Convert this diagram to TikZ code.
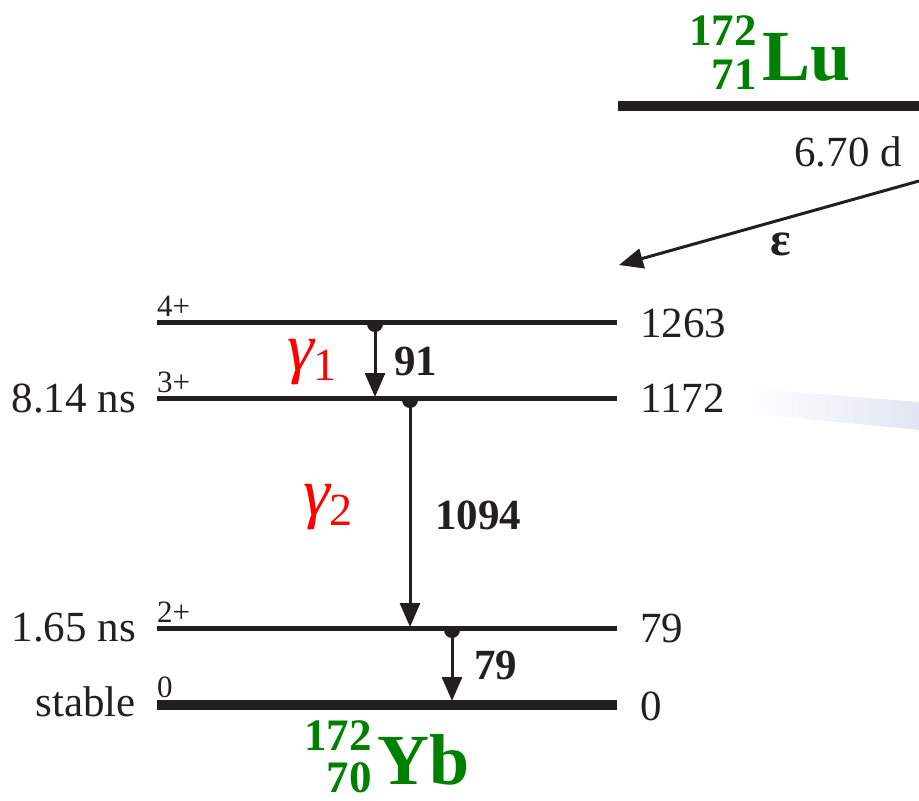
\documentclass[tikz,border=0pt]{standalone}
\usepackage{fontspec}
\setmainfont{Liberation Serif}
\usetikzlibrary{arrows.meta}
\definecolor{lvl}{RGB}{35,31,32}
\definecolor{nucgreen}{RGB}{0,128,0}
\definecolor{gred}{RGB}{255,0,0}
\definecolor{bandblue}{RGB}{224,230,242}
\begin{document}
\begin{tikzpicture}[x=1pt,y=-1pt,
 level/.style={line width=5pt,draw=lvl},
 glevel/.style={line width=10pt,draw=lvl},
 trans/.style={line width=3pt,draw=lvl,-{Triangle[length=24pt,width=20pt]}},
 dotstart/.style={fill=lvl},
 num/.style={font=\fontsize{43}{43}\selectfont,text=lvl,inner sep=0pt},
 spin/.style={font=\fontsize{31}{31}\selectfont,text=lvl,inner sep=0pt},
 energy/.style={font=\bfseries\fontsize{43}{43}\selectfont,text=lvl,inner sep=0pt},
 gam/.style={font=\itshape\fontsize{68}{68}\selectfont,text=gred,inner sep=0pt},
 nuc/.style={font=\bfseries\fontsize{72}{72}\selectfont,text=nucgreen,inner sep=0pt},
 nucs/.style={font=\bfseries\fontsize{45}{45}\selectfont,text=nucgreen,inner sep=0pt},
]
\useasboundingbox (0,0) rectangle (919,801);
% faint band
\shade[left color=white,right color=bandblue,draw=none]
  (745,388) -- (919,402) -- (919,430) -- (745,413) -- cycle;

% levels
\coordinate (l4a) at (157,322); \coordinate (l4b) at (617,322);
\coordinate (l3a) at (157,398); \coordinate (l3b) at (617,398);
\coordinate (l2a) at (157,628); \coordinate (l2b) at (617,628);
\coordinate (l0a) at (157,705); \coordinate (l0b) at (617,705);
\coordinate (lua) at (618,106); \coordinate (lub) at (919,106);
\draw[level] (l4a) -- (l4b);
\draw[level] (l3a) -- (l3b);
\draw[level] (l2a) -- (l2b);
\draw[glevel] (l0a) -- (l0b);
\draw[glevel] (lua) -- (lub);

% spins
\node[spin,anchor=base west] (s4) at (157,316) {4+};
\node[spin,anchor=base west] (s3) at (157,392) {3+};
\node[spin,anchor=base west] (s2) at (157,622) {2+};
\node[spin,anchor=base west] (s0) at (157,697) {0};

% half-lives
\node[num,anchor=east] (h3) at (136,398) {8.14 ns};
\node[num,anchor=east] (h2) at (136,628) {1.65 ns};
\node[num,anchor=east] (h0) at (136,702) {stable};

% energies
\node[num,anchor=west] (e4) at (640,323) {1263};
\node[num,anchor=west] (e3) at (640,398) {1172};
\node[num,anchor=west] (e2) at (640,628) {79};
\node[num,anchor=west] (e0) at (640,706) {0};

% transitions
\coordinate (t1s) at (375,324); \coordinate (t1e) at (375,397);
\coordinate (t2s) at (410,400); \coordinate (t2e) at (410,627);
\coordinate (t3s) at (452,630); \coordinate (t3e) at (452,701);
\fill[dotstart] (383,324) arc[start angle=0,end angle=180,radius=8] -- cycle;
\fill[dotstart] (418,400) arc[start angle=0,end angle=180,radius=8] -- cycle;
\fill[dotstart] (460,630) arc[start angle=0,end angle=180,radius=8] -- cycle;
\draw[trans] (t1s) -- (t1e);
\draw[trans] (t2s) -- (t2e);
\draw[trans] (t3s) -- (t3e);
\node[energy,anchor=west] (g1e) at (394,361) {91};
\node[energy,anchor=west] (g2e) at (435,515) {1094};
\node[energy,anchor=west] (g3e) at (474,665) {79};
\node[gam,anchor=base west] (g1) at (287,370) {γ\raisebox{-10pt}{\upshape\fontsize{46}{46}\selectfont 1}};
\node[gam,anchor=base west] (g2) at (303,515) {γ\raisebox{-10pt}{\upshape\fontsize{46}{46}\selectfont 2}};

% epsilon decay
\coordinate (eps0) at (919,181);
\coordinate (eps1) at (619,265);
\draw[line width=3pt,draw=lvl,-{Triangle[length=24pt,width=20pt]}] (eps0) -- (eps1);
\node[num,anchor=east] (hl) at (902,152) {6.70 d};
\node[font=\bfseries\fontsize{48}{48}\selectfont,text=lvl,inner sep=0pt] (epsl) at (781,244) {ε};

% nuclide labels
\node[nuc,anchor=base west] (lu) at (762,80) {Lu};
\node[nucs,anchor=base east] (lua1) at (757,45) {172};
\node[nucs,anchor=base east] (luz) at (757,89) {71};
\node[nuc,anchor=base west] (yb) at (377,784) {Yb};
\node[nucs,anchor=base east] (yba) at (372,750) {172};
\node[nucs,anchor=base east] (ybz) at (372,792) {70};
\end{tikzpicture}
\end{document}
